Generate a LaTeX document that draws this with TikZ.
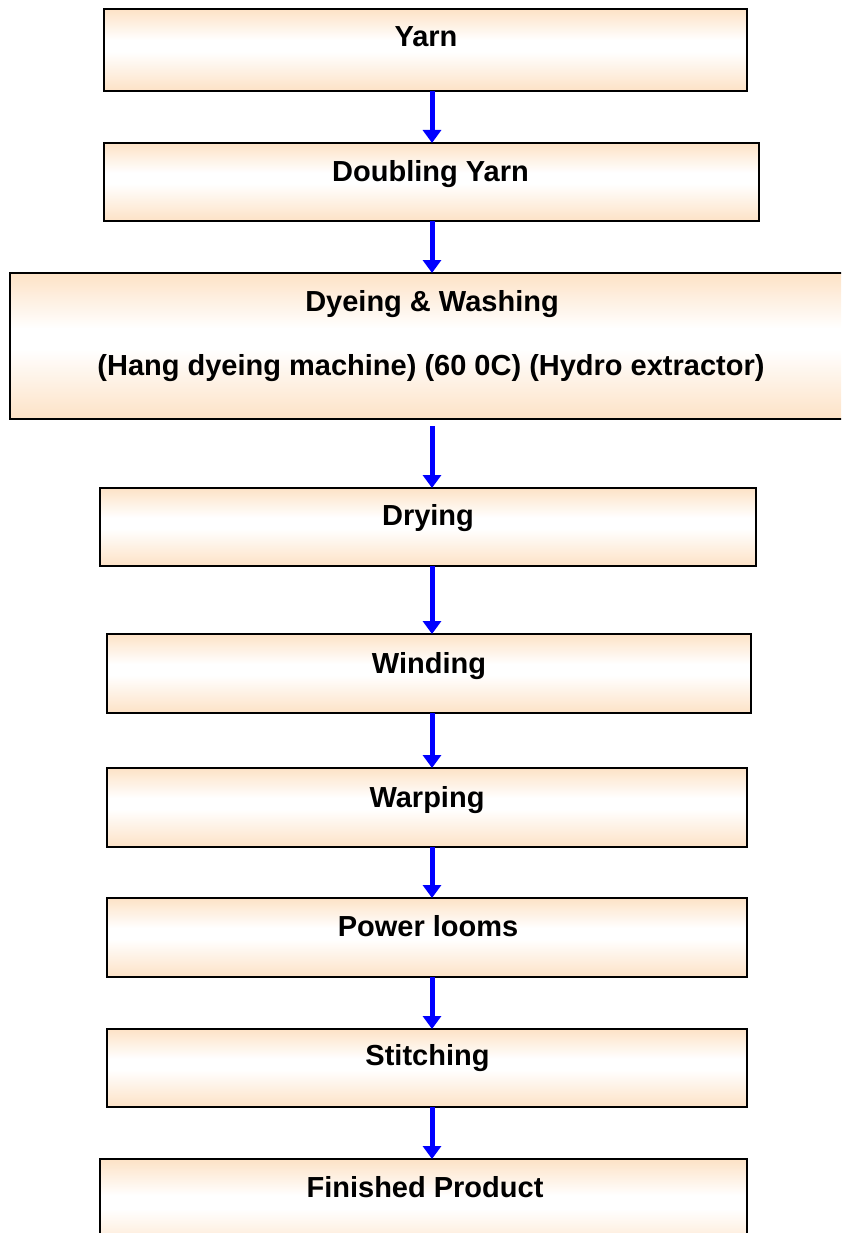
\documentclass[tikz,border=0pt]{standalone}
\usepackage{fontspec}
\setmainfont{Liberation Sans}
\usetikzlibrary{arrows.meta}
\definecolor{peach}{RGB}{253,226,198}
\definecolor{flowblue}{RGB}{0,0,255}
\pgfdeclareverticalshading{boxshade}{100bp}{color(0bp)=(peach); color(25bp)=(peach); color(49bp)=(white); color(56bp)=(white); color(75bp)=(peach); color(100bp)=(peach)}
\begin{document}
\begin{tikzpicture}[x=1pt,y=-1pt,
  boxnode/.style={draw=black, line width=2pt, rectangle, shading=boxshade, inner sep=0pt, outer sep=0pt},
  lbl/.style={anchor=base, inner sep=0pt, font=\fontsize{29}{35}\selectfont\bfseries},
  flow/.style={draw=flowblue, line width=5pt, -{Triangle[width=18pt,length=13pt]}}]
\clip (0,0) rectangle (841,1233);
\fill[white] (0,0) rectangle (841,1233);
\coordinate (ax) at (432,0);
% boxes
\node[boxnode, minimum width=643pt, minimum height=82pt] (yarn) at (425.5,50) {};
\node[boxnode, minimum width=655pt, minimum height=78pt] (doubling) at (431.5,182) {};
\node[boxnode, minimum width=840pt, minimum height=146pt] (dyeing) at (430,346) {};
\node[boxnode, minimum width=656pt, minimum height=78pt] (drying) at (428,527) {};
\node[boxnode, minimum width=644pt, minimum height=79pt] (winding) at (429,673.5) {};
\node[boxnode, minimum width=640pt, minimum height=79pt] (warping) at (427,807.5) {};
\node[boxnode, minimum width=640pt, minimum height=79pt] (power) at (427,937.5) {};
\node[boxnode, minimum width=640pt, minimum height=78pt] (stitching) at (427,1068) {};
\node[boxnode, minimum width=647pt, minimum height=96pt] (finished) at (423.5,1207) {};
% labels
\node[lbl] (tyarn) at (426,47) {Yarn};
\node[lbl] (tdoubling) at (430.5,182) {Doubling Yarn};
\node[lbl] (tdyeingA) at (432,311) {Dyeing \& Washing};
\node[lbl] (tdyeingB) at (431,375) {(Hang dyeing machine) (60 0C) (Hydro extractor)};
\node[lbl] (tdrying) at (428,525) {Drying};
\node[lbl] (twinding) at (429,673) {Winding};
\node[lbl] (twarping) at (427,807) {Warping};
\node[lbl] (tpower) at (428,936) {Power looms};
\node[lbl] (tstitching) at (427.5,1065) {Stitching};
\node[lbl] (tfinished) at (425,1197) {Finished Product};
% arrows
\draw[flow] (yarn.south -| ax) -- (doubling.north -| ax);
\draw[flow] (doubling.south -| ax) -- (dyeing.north -| ax);
\draw[flow] ([yshift=-7pt]dyeing.south -| ax) -- (drying.north -| ax);
\draw[flow] (drying.south -| ax) -- (winding.north -| ax);
\draw[flow] (winding.south -| ax) -- (warping.north -| ax);
\draw[flow] (warping.south -| ax) -- (power.north -| ax);
\draw[flow] (power.south -| ax) -- (stitching.north -| ax);
\draw[flow] (stitching.south -| ax) -- (finished.north -| ax);
\end{tikzpicture}
\end{document}
